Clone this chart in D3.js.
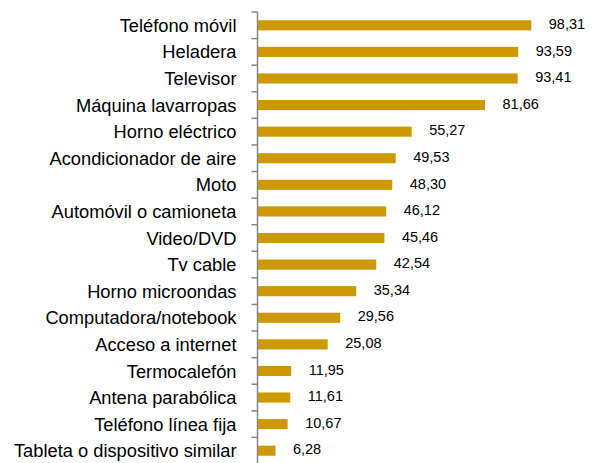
<!DOCTYPE html>
<html><head><meta charset="utf-8">
<script src="https://cdn.jsdelivr.net/npm/d3@7"></script>
<style>
html,body{margin:0;padding:0;background:#fff;}
svg text{font-family:"Liberation Sans","DejaVu Sans",sans-serif;fill:#000;}
</style></head>
<body><svg id="c" width="595" height="463"></svg>
<script>
const categories = ["Teléfono móvil","Heladera","Televisor","Máquina lavarropas","Horno eléctrico","Acondicionador de aire","Moto","Automóvil o camioneta","Video/DVD","Tv cable","Horno microondas ","Computadora/notebook","Acceso a internet","Termocalefón","Antena parabólica","Teléfono línea fija","Tableta o dispositivo similar"];
const values = [98.31,93.59,93.41,81.66,55.27,49.53,48.30,46.12,45.46,42.54,35.34,29.56,25.08,11.95,11.61,10.67,6.28];
const valueLabels = ["98,31","93,59","93,41","81,66","55,27","49,53","48,30","46,12","45,46","42,54","35,34","29,56","25,08","11,95","11,61","10,67","6,28"];

(function(){
const svg = d3.select("#c");
const x0 = 257.5, yTop = 12, yBottom = 464;
const x = d3.scaleLinear().domain([0,100]).range([x0, x0+278]);
const y = d3.scaleBand().domain(categories).range([yTop,yBottom]).paddingInner(0.62).paddingOuter(0.31);
const yb = d3.scaleBand().domain(categories).range([yTop,yBottom]);

svg.selectAll("rect.bar").data(values).join("rect")
  .attr("class","bar")
  .attr("x", x(0)+0.5)
  .attr("y",(d,i)=>y(categories[i]))
  .attr("width",d=>x(d)-x(0))
  .attr("height",y.bandwidth())
  .attr("fill","#CC9900");

const g = svg.append("g");
g.append("line").attr("x1",x0).attr("x2",x0).attr("y1",yTop).attr("y2",yBottom).attr("stroke","#868686").attr("stroke-width",1.5);
const tickYs = categories.map(c=>yb(c)).concat([yBottom]);
g.selectAll("line.t").data(tickYs).join("line").attr("class","t")
  .attr("x1",x0-6).attr("x2",x0).attr("y1",d=>d).attr("y2",d=>d)
  .attr("stroke","#868686").attr("stroke-width",1.5);

svg.selectAll("text.cat").data(categories).join("text").attr("class","cat")
  .attr("x",236.5).attr("y",c=>yb(c)+yb.bandwidth()/2).attr("dy","0.36em")
  .attr("text-anchor","end").attr("font-size",18.3).text(d=>d);

svg.selectAll("text.val").data(values).join("text").attr("class","val")
  .attr("x",d=>x(d)+18).attr("y",(d,i)=>yb(categories[i])+yb.bandwidth()/2-1.5).attr("dy","0.36em")
  .attr("font-size",14.5).text((d,i)=>valueLabels[i]);
})();
</script></body></html>
